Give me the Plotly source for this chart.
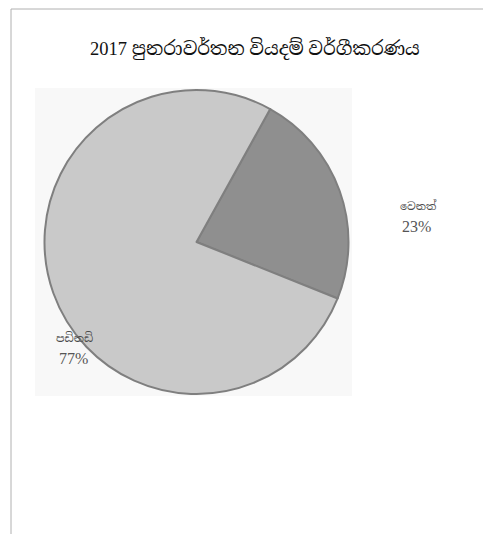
import plotly.graph_objects as go

# Data
title_text = "2017 පුනරාවර්තන වියදම් වර්ගීකරණය"
categories = ["වෙනත්", "පඩිනඩි"]
values = [23, 77]
colors = ["#8f8f8f", "#c9c9c9"]

W, H = 491, 534
OFF = 8  # page body margin
font_family = "Liberation Serif, Noto Serif Sinhala, Noto Sans Sinhala, serif"


def px(x):
    return (x - OFF) / W


def py(y):
    return 1 - (y - OFF) / H


fig = go.Figure()
fig.add_trace(go.Pie(
    labels=categories,
    values=values,
    sort=False,
    direction="clockwise",
    rotation=29,
    marker=dict(colors=colors, line=dict(color="#7f7f7f", width=2)),
    textinfo="none",
    hoverinfo="label+percent",
    showlegend=False,
    domain=dict(x=[px(44), px(349)], y=[py(394), py(90)]),
))

# Outside-style labels: name (small) above percent
name_pos = [(418, 205), (74, 337)]
pct_pos = [(416, 226), (73, 358)]
annotations = []
for (nx, ny), (qx, qy), name, v in zip(name_pos, pct_pos, categories, values):
    annotations.append(dict(
        x=px(nx), y=py(ny), xref="paper", yref="paper",
        xanchor="center", yanchor="middle",
        text=name, showarrow=False,
        font=dict(family=font_family, size=11, color="#4a4a4a"),
    ))
    annotations.append(dict(
        x=px(qx), y=py(qy), xref="paper", yref="paper",
        xanchor="center", yanchor="middle",
        text=f"{v}%", showarrow=False,
        font=dict(family=font_family, size=16, color="#555555"),
    ))
annotations.append(dict(
    x=px(255), y=py(48), xref="paper", yref="paper",
    xanchor="center", yanchor="middle",
    text=title_text, showarrow=False,
    font=dict(family=font_family, size=18.5, color="#111111"),
))

fig.update_layout(
    width=W, height=H,
    margin=dict(l=0, r=0, t=0, b=0),
    paper_bgcolor="white",
    plot_bgcolor="white",
    annotations=annotations,
    shapes=[
        dict(type="rect", xref="paper", yref="paper",
             x0=px(11), x1=1.05, y0=-0.05, y1=py(9),
             line=dict(color="#b0b0b0", width=1)),
        dict(type="rect", xref="paper", yref="paper", layer="below",
             x0=px(35), x1=px(352), y0=py(396), y1=py(88),
             line=dict(width=0), fillcolor="#f8f8f8"),
    ],
)

fig.write_html("out.html")
